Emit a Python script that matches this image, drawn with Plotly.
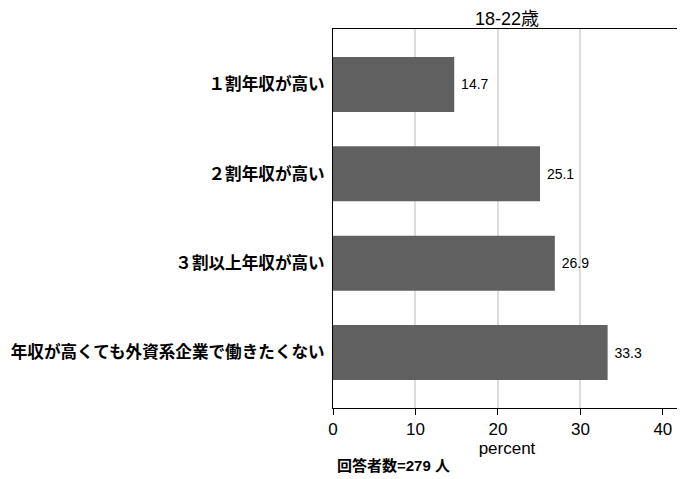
import plotly.graph_objects as go

# 回答の選択肢と割合(%)
categories = ["１割年収が高い", "２割年収が高い", "３割以上年収が高い", "年収が高くても外資系企業で働きたくない"]
percent = [14.7, 25.1, 26.9, 33.3]
x_ticks = [0, 10, 20, 30, 40]
grid_ticks = [10, 20, 30]
title_text = "18-22歳"
note_text = "回答者数=279 人"

jp_font = "Noto Sans CJK JP"
lat_font = "Liberation Sans, Arial"
x_range = [0, 42.2]

fig = go.Figure()
fig.add_trace(go.Bar(
    x=percent, y=categories, orientation="h",
    marker=dict(color="#606060", line=dict(width=0)),
    width=0.615,
    text=percent, texttemplate=" %{x:.1f}", textposition="outside",
    textfont=dict(family=lat_font, size=14, color="black"),
    cliponaxis=False, showlegend=False,
))
# 40 を除いた縦グリッド線用の補助軸
fig.add_trace(go.Scatter(x=[None], y=[None], xaxis="x2", showlegend=False, hoverinfo="skip"))

# ページ本体の余白 (8px) を考慮した大きさ
fig.update_layout(
    width=677, height=471,
    margin=dict(l=325, r=4, t=21, b=71, autoexpand=False),
    plot_bgcolor="white", paper_bgcolor="white",
    title=dict(text=title_text, xref="paper", x=0.5, xanchor="center", y=0.978, yanchor="middle",
               font=dict(family=lat_font + ", " + jp_font, size=18, color="black")),
    xaxis=dict(
        range=x_range, tickvals=x_ticks, showgrid=False, zeroline=False, automargin=False,
        ticks="outside", ticklen=6, tickcolor="black", tickwidth=1,
        showline=True, linecolor="black", linewidth=1, mirror=True,
        tickfont=dict(family=lat_font, size=17, color="black"),
        title=dict(text="percent", font=dict(family=lat_font, size=17, color="black"), standoff=0),
    ),
    xaxis2=dict(
        range=x_range, overlaying="x", tickvals=grid_ticks, showgrid=True, automargin=False,
        gridcolor="#dcdcdc", gridwidth=2, showticklabels=False, zeroline=False,
    ),
    yaxis=dict(
        autorange=False, range=[3.62, -0.62], type="category", automargin=False,
        showgrid=False, ticks="", ticklabelstandoff=4,
        showline=True, linecolor="black", linewidth=1, mirror=True,
        tickfont=dict(family=jp_font, size=16.6, color="black", weight="bold"),
    ),
    annotations=[dict(
        text=note_text, xref="paper", yref="paper", x=0.005, y=-0.152,
        xanchor="left", yanchor="middle", showarrow=False,
        font=dict(family=lat_font + ", " + jp_font, size=15, color="black", weight="bold"),
    )],
)

fig.write_html("out.html")
